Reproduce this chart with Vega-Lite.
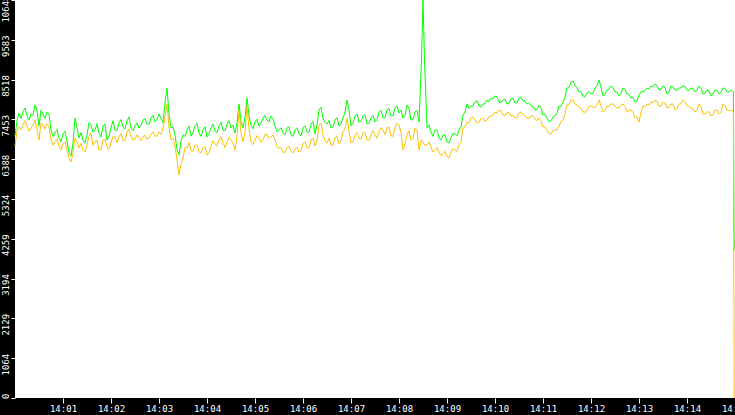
{
  "$schema": "https://vega.github.io/schema/vega-lite/v6.json",
  "description": "Two traffic series over fifteen minutes, x in seconds after 14:00",
  "width": 720,
  "height": 398,
  "autosize": {"type": "none"},
  "padding": {"left": 15, "top": 0, "right": 0, "bottom": 17},
  "background": "black",
  "config": {
    "view": {"stroke": null, "fill": "white"},
    "axis": {
      "domain": false,
      "grid": false,
      "tickColor": "white",
      "labelColor": "white",
      "labelFont": "DejaVu Sans Mono",
      "labelFontSize": 9,
      "labelFlush": false,
      "labelOverlap": false,
      "labelBound": false,
      "title": null
    }
  },
  "data": {
    "values": [
      {"s": 0, "g": 7010, "o": 6742}, {"s": 2.5, "g": 7420, "o": 7150},
      {"s": 5, "g": 7625, "o": 7250}, {"s": 7.5, "g": 7480, "o": 7180},
      {"s": 10, "g": 7652, "o": 7331}, {"s": 12.5, "g": 7760, "o": 7420},
      {"s": 15, "g": 7545, "o": 7277}, {"s": 17.5, "g": 7440, "o": 7140},
      {"s": 20, "g": 7598, "o": 7224}, {"s": 22.5, "g": 7560, "o": 7300},
      {"s": 25, "g": 7839, "o": 7438}, {"s": 27.5, "g": 7680, "o": 7200},
      {"s": 30, "g": 7277, "o": 6903}, {"s": 32.5, "g": 7700, "o": 7360},
      {"s": 35, "g": 7598, "o": 7304}, {"s": 37.5, "g": 7480, "o": 7200},
      {"s": 40, "g": 7652, "o": 7331}, {"s": 42.5, "g": 7600, "o": 7280},
      {"s": 45, "g": 7170, "o": 6903}, {"s": 47.5, "g": 6990, "o": 6760},
      {"s": 50, "g": 7090, "o": 6849}, {"s": 52.5, "g": 7180, "o": 6930},
      {"s": 55, "g": 6956, "o": 6742}, {"s": 57.5, "g": 6850, "o": 6640},
      {"s": 60, "g": 7063, "o": 6796}, {"s": 62.5, "g": 7140, "o": 6860},
      {"s": 65, "g": 6876, "o": 6635}, {"s": 67.5, "g": 6580, "o": 6420},
      {"s": 70, "g": 6475, "o": 6314}, {"s": 72.5, "g": 6820, "o": 6560},
      {"s": 75, "g": 7491, "o": 6956}, {"s": 77.5, "g": 7230, "o": 6850},
      {"s": 80, "g": 6956, "o": 6689}, {"s": 82.5, "g": 7100, "o": 6810},
      {"s": 85, "g": 6903, "o": 6635}, {"s": 87.5, "g": 6820, "o": 6580},
      {"s": 90, "g": 7036, "o": 6769}, {"s": 92.5, "g": 7370, "o": 7000},
      {"s": 95, "g": 7304, "o": 7090}, {"s": 97.5, "g": 7110, "o": 6760},
      {"s": 100, "g": 7170, "o": 6849}, {"s": 102.5, "g": 7340, "o": 6900},
      {"s": 105, "g": 7090, "o": 6635}, {"s": 107.5, "g": 6980, "o": 6640},
      {"s": 110, "g": 7277, "o": 6903}, {"s": 112.5, "g": 7330, "o": 6920},
      {"s": 115, "g": 6903, "o": 6715}, {"s": 117.5, "g": 7000, "o": 6650},
      {"s": 120, "g": 7224, "o": 6822}, {"s": 122.5, "g": 7420, "o": 7000},
      {"s": 125, "g": 7170, "o": 6983}, {"s": 127.5, "g": 7150, "o": 6830},
      {"s": 130, "g": 7357, "o": 6983}, {"s": 132.5, "g": 7450, "o": 7080},
      {"s": 135, "g": 7250, "o": 6903}, {"s": 137.5, "g": 7200, "o": 6880},
      {"s": 140, "g": 7411, "o": 7117}, {"s": 142.5, "g": 7520, "o": 7200},
      {"s": 145, "g": 7224, "o": 7010}, {"s": 147.5, "g": 7150, "o": 6900},
      {"s": 150, "g": 7277, "o": 6929}, {"s": 152.5, "g": 7360, "o": 7040},
      {"s": 155, "g": 7224, "o": 6956}, {"s": 157.5, "g": 7300, "o": 6880},
      {"s": 160, "g": 7438, "o": 6983}, {"s": 162.5, "g": 7480, "o": 7030},
      {"s": 165, "g": 7331, "o": 6929}, {"s": 167.5, "g": 7320, "o": 6950},
      {"s": 170, "g": 7491, "o": 7063}, {"s": 172.5, "g": 7560, "o": 7120},
      {"s": 175, "g": 7384, "o": 7010}, {"s": 177.5, "g": 7450, "o": 7000},
      {"s": 180, "g": 7598, "o": 7117}, {"s": 182.5, "g": 7470, "o": 7050},
      {"s": 185, "g": 7357, "o": 7224}, {"s": 187.5, "g": 7900, "o": 7500},
      {"s": 190, "g": 8294, "o": 7866}, {"s": 192.5, "g": 7600, "o": 7250},
      {"s": 195, "g": 7224, "o": 6903}, {"s": 197.5, "g": 7250, "o": 6950},
      {"s": 200, "g": 7036, "o": 6742}, {"s": 202.5, "g": 6650, "o": 6380},
      {"s": 205, "g": 6501, "o": 5966}, {"s": 207.5, "g": 6880, "o": 6250},
      {"s": 210, "g": 7036, "o": 6421}, {"s": 212.5, "g": 7000, "o": 6700},
      {"s": 215, "g": 7170, "o": 6689}, {"s": 217.5, "g": 7280, "o": 6830},
      {"s": 220, "g": 7010, "o": 6635}, {"s": 222.5, "g": 7100, "o": 6600},
      {"s": 225, "g": 7277, "o": 6769}, {"s": 227.5, "g": 7350, "o": 6760},
      {"s": 230, "g": 7090, "o": 6582}, {"s": 232.5, "g": 7000, "o": 6560},
      {"s": 235, "g": 7170, "o": 6689}, {"s": 237.5, "g": 7260, "o": 6720},
      {"s": 240, "g": 6983, "o": 6501}, {"s": 242.5, "g": 7080, "o": 6560},
      {"s": 245, "g": 7224, "o": 6742}, {"s": 247.5, "g": 7330, "o": 6880},
      {"s": 250, "g": 7143, "o": 6796}, {"s": 252.5, "g": 7100, "o": 6740},
      {"s": 255, "g": 7277, "o": 6903}, {"s": 257.5, "g": 7380, "o": 6990},
      {"s": 260, "g": 7170, "o": 6822}, {"s": 262.5, "g": 7150, "o": 6700},
      {"s": 265, "g": 7331, "o": 6849}, {"s": 267.5, "g": 7420, "o": 6980},
      {"s": 270, "g": 7224, "o": 6903}, {"s": 272.5, "g": 7300, "o": 6820},
      {"s": 275, "g": 7090, "o": 6635}, {"s": 277.5, "g": 7350, "o": 7000},
      {"s": 280, "g": 7866, "o": 7705}, {"s": 282.5, "g": 7400, "o": 7100},
      {"s": 285, "g": 7224, "o": 6849}, {"s": 287.5, "g": 7500, "o": 7100},
      {"s": 290, "g": 8026, "o": 7839}, {"s": 292.5, "g": 7550, "o": 7200},
      {"s": 295, "g": 7304, "o": 6849}, {"s": 297.5, "g": 7200, "o": 6780},
      {"s": 300, "g": 7384, "o": 6903}, {"s": 302.5, "g": 7460, "o": 7020},
      {"s": 305, "g": 7277, "o": 6956}, {"s": 307.5, "g": 7350, "o": 6840},
      {"s": 310, "g": 7491, "o": 6903}, {"s": 312.5, "g": 7560, "o": 7050},
      {"s": 315, "g": 7438, "o": 7063}, {"s": 317.5, "g": 7380, "o": 6950},
      {"s": 320, "g": 7545, "o": 6983}, {"s": 322.5, "g": 7480, "o": 7040},
      {"s": 325, "g": 7277, "o": 6903}, {"s": 327.5, "g": 7120, "o": 6720},
      {"s": 330, "g": 7170, "o": 6689}, {"s": 332.5, "g": 7230, "o": 6700},
      {"s": 335, "g": 7090, "o": 6582}, {"s": 337.5, "g": 7040, "o": 6560},
      {"s": 340, "g": 7224, "o": 6689}, {"s": 342.5, "g": 7250, "o": 6740},
      {"s": 345, "g": 7036, "o": 6608}, {"s": 347.5, "g": 7000, "o": 6560},
      {"s": 350, "g": 7170, "o": 6662}, {"s": 352.5, "g": 7230, "o": 6710},
      {"s": 355, "g": 7063, "o": 6582}, {"s": 357.5, "g": 7010, "o": 6620},
      {"s": 360, "g": 7224, "o": 6796}, {"s": 362.5, "g": 7280, "o": 6850},
      {"s": 365, "g": 7117, "o": 6689}, {"s": 367.5, "g": 7100, "o": 6700},
      {"s": 370, "g": 7331, "o": 6903}, {"s": 372.5, "g": 7400, "o": 6950},
      {"s": 375, "g": 7063, "o": 6742}, {"s": 377.5, "g": 7300, "o": 6900},
      {"s": 380, "g": 7705, "o": 7304}, {"s": 382.5, "g": 7780, "o": 7350},
      {"s": 385, "g": 7491, "o": 7036}, {"s": 387.5, "g": 7380, "o": 6880},
      {"s": 390, "g": 7331, "o": 6822}, {"s": 392.5, "g": 7420, "o": 6950},
      {"s": 395, "g": 7224, "o": 6769}, {"s": 397.5, "g": 7250, "o": 6760},
      {"s": 400, "g": 7438, "o": 6956}, {"s": 402.5, "g": 7500, "o": 7010},
      {"s": 405, "g": 7277, "o": 6796}, {"s": 407.5, "g": 7330, "o": 6860},
      {"s": 410, "g": 7491, "o": 7117}, {"s": 412.5, "g": 7650, "o": 7200},
      {"s": 415, "g": 7973, "o": 7491}, {"s": 417.5, "g": 7700, "o": 7150},
      {"s": 420, "g": 7277, "o": 6822}, {"s": 422.5, "g": 7350, "o": 6850},
      {"s": 425, "g": 7545, "o": 7036}, {"s": 427.5, "g": 7600, "o": 7100},
      {"s": 430, "g": 7384, "o": 6956}, {"s": 432.5, "g": 7400, "o": 6920},
      {"s": 435, "g": 7545, "o": 7090}, {"s": 437.5, "g": 7580, "o": 7100},
      {"s": 440, "g": 7331, "o": 6903}, {"s": 442.5, "g": 7350, "o": 6900},
      {"s": 445, "g": 7491, "o": 7036}, {"s": 447.5, "g": 7560, "o": 7150},
      {"s": 450, "g": 7384, "o": 7036}, {"s": 452.5, "g": 7450, "o": 6950},
      {"s": 455, "g": 7652, "o": 7117}, {"s": 457.5, "g": 7700, "o": 7230},
      {"s": 460, "g": 7491, "o": 7170}, {"s": 462.5, "g": 7500, "o": 7050},
      {"s": 465, "g": 7705, "o": 7224}, {"s": 467.5, "g": 7750, "o": 7250},
      {"s": 470, "g": 7545, "o": 7010}, {"s": 472.5, "g": 7550, "o": 7000},
      {"s": 475, "g": 7759, "o": 7224}, {"s": 477.5, "g": 7820, "o": 7350},
      {"s": 480, "g": 7625, "o": 7304}, {"s": 482.5, "g": 7700, "o": 7100},
      {"s": 485, "g": 7491, "o": 6635}, {"s": 487.5, "g": 7550, "o": 6800},
      {"s": 490, "g": 7839, "o": 7036}, {"s": 492.5, "g": 7750, "o": 7150},
      {"s": 495, "g": 7438, "o": 6903}, {"s": 497.5, "g": 7450, "o": 6950},
      {"s": 500, "g": 7652, "o": 7224}, {"s": 502.5, "g": 7700, "o": 7150},
      {"s": 505, "g": 7384, "o": 6635},
      {"s": 508, "g": 8963, "o": 6903},
      {"s": 510, "g": 10648, "o": 6849},
      {"s": 512, "g": 8963, "o": 6769},
      {"s": 515, "g": 7224, "o": 6769}, {"s": 517.5, "g": 7300, "o": 6850},
      {"s": 520, "g": 7117, "o": 6715}, {"s": 522.5, "g": 7000, "o": 6580},
      {"s": 525, "g": 7170, "o": 6635}, {"s": 527.5, "g": 7180, "o": 6700},
      {"s": 530, "g": 6956, "o": 6582}, {"s": 532.5, "g": 6900, "o": 6480},
      {"s": 535, "g": 7036, "o": 6528}, {"s": 537.5, "g": 7050, "o": 6600},
      {"s": 540, "g": 6849, "o": 6448}, {"s": 542.5, "g": 6820, "o": 6420},
      {"s": 545, "g": 6956, "o": 6582}, {"s": 547.5, "g": 7080, "o": 6680},
      {"s": 550, "g": 7063, "o": 6635}, {"s": 552.5, "g": 7020, "o": 6600},
      {"s": 555, "g": 7170, "o": 6769}, {"s": 557.5, "g": 7250, "o": 6850},
      {"s": 560, "g": 7571, "o": 7224}, {"s": 562.5, "g": 7650, "o": 7250},
      {"s": 565, "g": 7866, "o": 7384}, {"s": 567.5, "g": 7750, "o": 7350},
      {"s": 570, "g": 7812, "o": 7491}, {"s": 572.5, "g": 7820, "o": 7520},
      {"s": 575, "g": 7919, "o": 7438}, {"s": 577.5, "g": 7960, "o": 7350},
      {"s": 580, "g": 7812, "o": 7384}, {"s": 582.5, "g": 7780, "o": 7470},
      {"s": 585, "g": 7866, "o": 7491}, {"s": 587.5, "g": 7870, "o": 7400},
      {"s": 590, "g": 7973, "o": 7438}, {"s": 592.5, "g": 7930, "o": 7530},
      {"s": 595, "g": 8026, "o": 7545}, {"s": 597.5, "g": 8000, "o": 7560},
      {"s": 600, "g": 8080, "o": 7652}, {"s": 602.5, "g": 8060, "o": 7620},
      {"s": 605, "g": 7919, "o": 7705}, {"s": 607.5, "g": 7900, "o": 7690},
      {"s": 610, "g": 7973, "o": 7571}, {"s": 612.5, "g": 7990, "o": 7560},
      {"s": 615, "g": 7866, "o": 7625}, {"s": 617.5, "g": 7880, "o": 7640},
      {"s": 620, "g": 7999, "o": 7545}, {"s": 622.5, "g": 8020, "o": 7560},
      {"s": 625, "g": 7892, "o": 7491}, {"s": 627.5, "g": 7900, "o": 7500},
      {"s": 630, "g": 8026, "o": 7625}, {"s": 632.5, "g": 8050, "o": 7650},
      {"s": 635, "g": 7946, "o": 7598}, {"s": 637.5, "g": 7950, "o": 7530},
      {"s": 640, "g": 7866, "o": 7491}, {"s": 642.5, "g": 7880, "o": 7470},
      {"s": 645, "g": 7812, "o": 7545}, {"s": 647.5, "g": 7800, "o": 7550},
      {"s": 650, "g": 7705, "o": 7464}, {"s": 652.5, "g": 7720, "o": 7420},
      {"s": 655, "g": 7839, "o": 7491}, {"s": 657.5, "g": 7750, "o": 7420},
      {"s": 660, "g": 7571, "o": 7250}, {"s": 662.5, "g": 7600, "o": 7260},
      {"s": 665, "g": 7491, "o": 7170}, {"s": 667.5, "g": 7400, "o": 7080},
      {"s": 670, "g": 7411, "o": 7063}, {"s": 672.5, "g": 7520, "o": 7160},
      {"s": 675, "g": 7545, "o": 7170}, {"s": 677.5, "g": 7620, "o": 7180},
      {"s": 680, "g": 7812, "o": 7277}, {"s": 682.5, "g": 7800, "o": 7400},
      {"s": 685, "g": 7919, "o": 7438}, {"s": 687.5, "g": 8050, "o": 7600},
      {"s": 690, "g": 8294, "o": 7839}, {"s": 692.5, "g": 8300, "o": 7850},
      {"s": 695, "g": 8454, "o": 7973}, {"s": 697.5, "g": 8480, "o": 7980},
      {"s": 700, "g": 8347, "o": 7866}, {"s": 702.5, "g": 8300, "o": 7840},
      {"s": 705, "g": 8187, "o": 7785}, {"s": 707.5, "g": 8200, "o": 7760},
      {"s": 710, "g": 8080, "o": 7652}, {"s": 712.5, "g": 8060, "o": 7640},
      {"s": 715, "g": 8160, "o": 7705}, {"s": 717.5, "g": 8200, "o": 7790},
      {"s": 720, "g": 8133, "o": 7812}, {"s": 722.5, "g": 8150, "o": 7800},
      {"s": 725, "g": 8294, "o": 7759}, {"s": 727.5, "g": 8350, "o": 7850},
      {"s": 730, "g": 8508, "o": 7973}, {"s": 732.5, "g": 8320, "o": 7820},
      {"s": 735, "g": 8080, "o": 7652}, {"s": 737.5, "g": 8120, "o": 7700},
      {"s": 740, "g": 8240, "o": 7812}, {"s": 742.5, "g": 8260, "o": 7800},
      {"s": 745, "g": 8347, "o": 7866}, {"s": 747.5, "g": 8300, "o": 7870},
      {"s": 750, "g": 8187, "o": 7812}, {"s": 752.5, "g": 8180, "o": 7760},
      {"s": 755, "g": 8080, "o": 7759}, {"s": 757.5, "g": 8150, "o": 7840},
      {"s": 760, "g": 8294, "o": 7866}, {"s": 762.5, "g": 8260, "o": 7800},
      {"s": 765, "g": 8133, "o": 7652}, {"s": 767.5, "g": 8120, "o": 7700},
      {"s": 770, "g": 8026, "o": 7705}, {"s": 772.5, "g": 8040, "o": 7640},
      {"s": 775, "g": 7919, "o": 7491}, {"s": 777.5, "g": 7950, "o": 7520},
      {"s": 780, "g": 8107, "o": 7384}, {"s": 782.5, "g": 8200, "o": 7650},
      {"s": 785, "g": 8187, "o": 7812}, {"s": 787.5, "g": 8220, "o": 7790},
      {"s": 790, "g": 8294, "o": 7866}, {"s": 792.5, "g": 8270, "o": 7840},
      {"s": 795, "g": 8347, "o": 7919}, {"s": 797.5, "g": 8330, "o": 7900},
      {"s": 800, "g": 8401, "o": 7973}, {"s": 802.5, "g": 8360, "o": 7940},
      {"s": 805, "g": 8240, "o": 7812}, {"s": 807.5, "g": 8260, "o": 7810},
      {"s": 810, "g": 8347, "o": 7919}, {"s": 812.5, "g": 8300, "o": 7890},
      {"s": 815, "g": 8133, "o": 7759}, {"s": 817.5, "g": 8180, "o": 7770},
      {"s": 820, "g": 8347, "o": 7866}, {"s": 822.5, "g": 8320, "o": 7860},
      {"s": 825, "g": 8240, "o": 7705}, {"s": 827.5, "g": 8230, "o": 7740},
      {"s": 830, "g": 8294, "o": 7866}, {"s": 832.5, "g": 8300, "o": 7880},
      {"s": 835, "g": 8347, "o": 7973}, {"s": 837.5, "g": 8340, "o": 7930},
      {"s": 840, "g": 8240, "o": 7812}, {"s": 842.5, "g": 8230, "o": 7800},
      {"s": 845, "g": 8294, "o": 7759}, {"s": 847.5, "g": 8280, "o": 7740},
      {"s": 850, "g": 8187, "o": 7652}, {"s": 852.5, "g": 8230, "o": 7700},
      {"s": 855, "g": 8347, "o": 7866}, {"s": 857.5, "g": 8290, "o": 7800},
      {"s": 860, "g": 8133, "o": 7598}, {"s": 862.5, "g": 8150, "o": 7590},
      {"s": 865, "g": 8240, "o": 7652}, {"s": 867.5, "g": 8220, "o": 7660},
      {"s": 870, "g": 8080, "o": 7545}, {"s": 872.5, "g": 8120, "o": 7580},
      {"s": 875, "g": 8240, "o": 7705}, {"s": 877.5, "g": 8230, "o": 7700},
      {"s": 880, "g": 8133, "o": 7598}, {"s": 882.5, "g": 8170, "o": 7650},
      {"s": 885, "g": 8294, "o": 7866}, {"s": 887.5, "g": 8280, "o": 7820},
      {"s": 890, "g": 8187, "o": 7705}, {"s": 892.5, "g": 8190, "o": 7680},
      {"s": 895, "g": 8240, "o": 7705},
      {"s": 898, "g": 8187, "o": 7652},
      {"s": 899, "g": 3950, "o": 0}
    ]
  },
  "encoding": {
    "x": {
      "field": "s",
      "type": "quantitative",
      "scale": {"domain": [0, 900], "nice": false, "zero": false},
      "axis": {
        "values": [60, 120, 180, 240, 300, 360, 420, 480, 540, 600, 660, 720, 780, 840, 900],
        "labelExpr": "'14:' + (datum.value < 600 ? '0' : '') + format(datum.value / 60, 'd')",
        "tickSize": 5,
        "labelPadding": 1,
        "labelBaseline": "top",
        "labelFlush": false,
        "labelOverlap": false,
        "labelBound": false
      }
    }
  },
  "layer": [
    {
      "mark": {"type": "line", "strokeWidth": 1, "color": "#00ff00"},
      "encoding": {
        "y": {
          "field": "g",
          "type": "quantitative",
          "scale": {"domain": [0, 10648], "nice": false},
          "axis": {
            "values": [0, 1064, 2129, 3194, 4259, 5324, 6388, 7453, 8518, 9583, 10648],
            "format": "d",
            "tickSize": 4,
            "labelAngle": -90,
            "labelAlign": "right",
            "labelBaseline": "bottom",
            "labelPadding": 1,
            "labelOffset": -5,
            "labelFlush": false,
            "labelOverlap": false,
            "labelBound": false
          }
        }
      }
    },
    {
      "mark": {"type": "line", "strokeWidth": 1, "color": "#ffc000"},
      "encoding": {
        "y": {
          "field": "o",
          "type": "quantitative",
          "axis": {
            "values": [0, 1064, 2129, 3194, 4259, 5324, 6388, 7453, 8518, 9583, 10648],
            "format": "d",
            "tickSize": 4,
            "labelAngle": -90,
            "labelAlign": "right",
            "labelBaseline": "bottom",
            "labelPadding": 1,
            "labelOffset": -5,
            "labelFlush": false,
            "labelOverlap": false,
            "labelBound": false
          }
        }
      }
    }
  ]
}
